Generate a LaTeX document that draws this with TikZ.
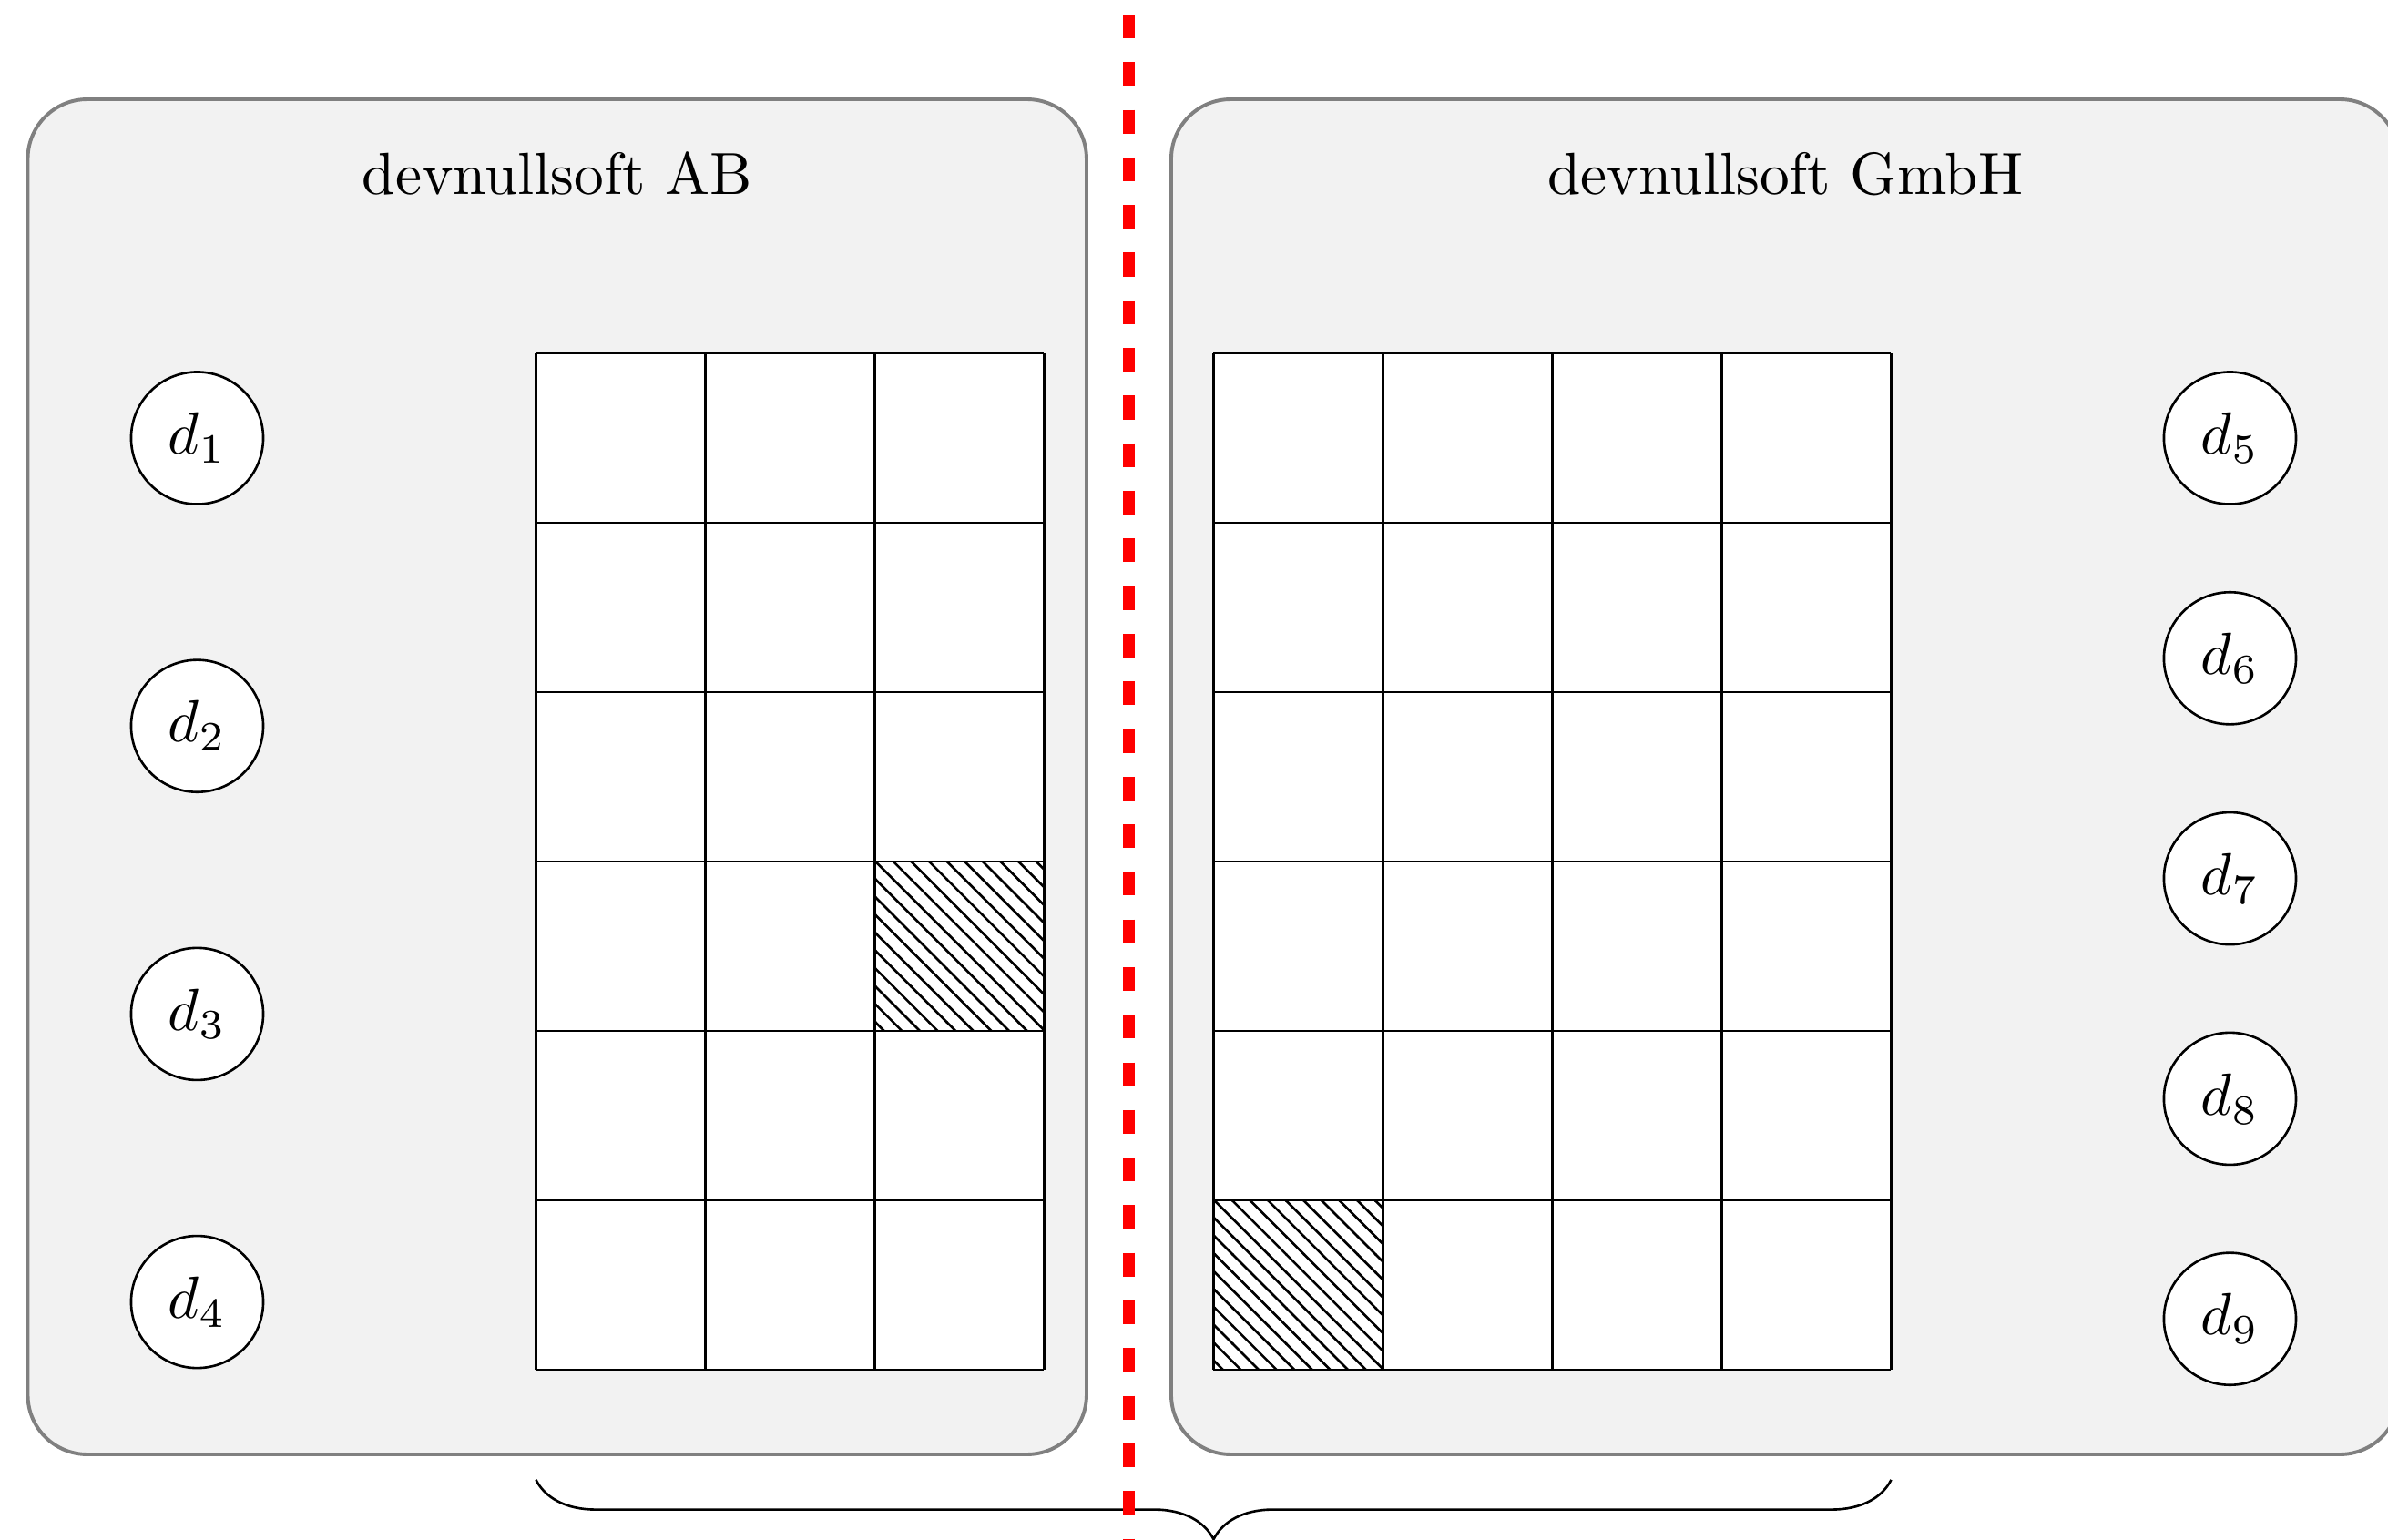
\documentclass[tikz,border=0pt]{standalone}
\usetikzlibrary{patterns,decorations.pathreplacing}
\begin{document}
\begin{tikzpicture}[
  company/.style={draw=gray, fill=gray!10, semithick, rounded corners=10pt},
  dnode/.style={circle, draw=black, fill=white, minimum size=0.78cm, inner sep=0pt},
  titlelabel/.style={inner sep=0pt, anchor=base},
  hatchcell/.style={pattern=north west lines},
  sepline/.style={red, line width=2pt, dash pattern=on 4pt off 4pt},
]
\useasboundingbox (-3.164,2.086) rectangle (10.933,-7.005);
% company boxes
\draw[company] (-3,-6.5) rectangle (3.25,1.5);
\draw[company] (3.75,-6.5) rectangle (11,1.5);
\node[titlelabel] (tAB) at (0.125,0.94) {devnullsoft AB};
\node[titlelabel] (tGmbH) at (7.375,0.94) {devnullsoft GmbH};
% grids
\fill[white] (0,-6) rectangle (3,0);
\fill[white] (4,-6) rectangle (8,0);
\fill[hatchcell] (2,-4) rectangle (3,-3);
\fill[hatchcell] (4,-6) rectangle (5,-5);
\draw (0,-6) grid (3,0);
\draw (4,-6) grid (8,0);
% data nodes
\node[dnode] (d1) at (-2,-0.5) {$d_1$};
\node[dnode] (d2) at (-2,-2.2) {$d_2$};
\node[dnode] (d3) at (-2,-3.9) {$d_3$};
\node[dnode] (d4) at (-2,-5.6) {$d_4$};
\node[dnode] (d5) at (10,-0.5) {$d_5$};
\node[dnode] (d6) at (10,-1.8) {$d_6$};
\node[dnode] (d7) at (10,-3.1) {$d_7$};
\node[dnode] (d8) at (10,-4.4) {$d_8$};
\node[dnode] (d9) at (10,-5.7) {$d_9$};
% brace
\coordinate (bl) at (0,-6.65);
\coordinate (br) at (8,-6.65);
\draw[decorate, decoration={brace, mirror, amplitude=10pt}] (bl) -- (br);
% separator
\coordinate (st) at (3.5,2);
\coordinate (sb) at (3.5,-7.2);
\draw[sepline] (st) -- (sb);
\end{tikzpicture}
\end{document}
